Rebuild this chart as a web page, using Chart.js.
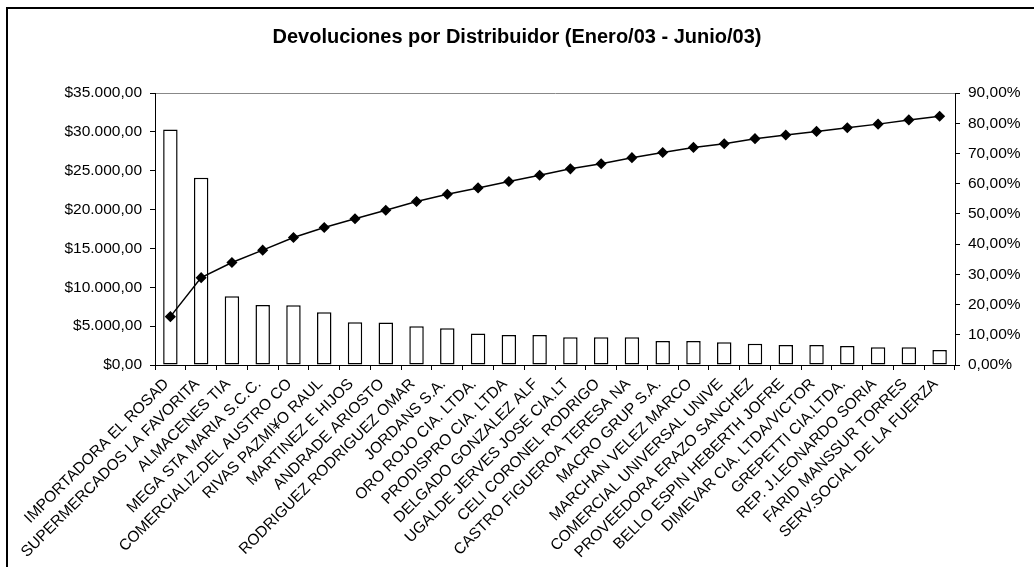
<!DOCTYPE html>
<html>
<head>
<meta charset="utf-8">
<script src="https://cdn.jsdelivr.net/npm/chart.js@4/dist/chart.umd.min.js"></script>
<style>
  body { margin: 0; background: #fff; }
  #wrap { width: 1034px; height: 567px; position: relative; }
</style>
</head>
<body>
<div id="wrap"><canvas id="paretoChart" width="1034" height="567"></canvas></div>
<script>
/* =============================
   DATA
============================= */
const distribuidores = [
  "IMPORTADORA EL ROSAD", "SUPERMERCADOS LA FAVORITA", "ALMACENES TIA",
  "MEGA STA MARIA S.C.C.", "COMERCIALIZ.DEL AUSTRO CO", "RIVAS PAZMI¥O RAUL",
  "MARTINEZ E HIJOS", "ANDRADE ARIOSTO", "RODRIGUEZ RODRIGUEZ OMAR",
  "JORDANS S.A.", "ORO ROJO CIA. LTDA.", "PRODISPRO CIA. LTDA",
  "DELGADO GONZALEZ ALF", "UGALDE JERVES JOSE CIA.LT", "CELI CORONEL RODRIGO",
  "CASTRO FIGUEROA TERESA NA", "MACRO GRUP S.A.", "MARCHAN VELEZ MARCO",
  "COMERCIAL UNIVERSAL UNIVE", "PROVEEDORA ERAZO SANCHEZ", "BELLO ESPIN HEBERTH JOFRE",
  "DIMEVAR CIA. LTDA/VICTOR", "GREPETTI CIA.LTDA.", "REP. J.LEONARDO SORIA",
  "FARID MANSSUR TORRES", "SERV.SOCIAL DE LA FUERZA"
];

const devoluciones = [
  30300, 24100, 8850, 7730, 7700, 6790, 5500, 5480, 4980, 4720,
  4040, 3870, 3870, 3560, 3560, 3560, 3090, 3090, 2920, 2750,
  2580, 2580, 2450, 2280, 2280, 1930
];

const porcentajeAcum = [
  16.0, 28.9, 33.9, 38.0, 42.2, 45.5, 48.4, 51.2, 54.1, 56.5,
  58.6, 60.7, 62.8, 64.9, 66.6, 68.6, 70.3, 72.0, 73.2, 74.9,
  76.1, 77.3, 78.5, 79.7, 81.1, 82.3
];

const tituloGrafico = "Devoluciones por Distribuidor (Enero/03 - Junio/03)";

/* =============================
   FORMATTERS
============================= */
function fmtDinero(v) {
  const [ent, dec] = Number(v).toFixed(2).split(".");
  return "$" + ent.replace(/\B(?=(\d{3})+(?!\d))/g, ".") + "," + dec;
}

function fmtPct(v) {
  return Number(v).toFixed(2).replace(".", ",") + "%";
}

/* =============================
   FRAME PLUGIN
============================= */
const framePlugin = {
  id: "frame",
  afterDraw(chart) {
    const c = chart.ctx;
    c.save();
    c.strokeStyle = "#000";
    c.lineWidth = 2;
    c.strokeRect(7, 8, 1100, 700);
    c.restore();
  }
};

const FONT = "'Liberation Sans', Arial, sans-serif";

new Chart(document.getElementById("paretoChart"), {
  data: {
    labels: distribuidores,
    datasets: [
      {
        type: "line",
        data: porcentajeAcum,
        yAxisID: "y1",
        borderColor: "#000",
        borderWidth: 1.5,
        pointStyle: "rectRot",
        pointRadius: 4.5,
        pointBackgroundColor: "#000",
        pointBorderColor: "#000",
        tension: 0,
        order: 0
      },
      {
        type: "bar",
        data: devoluciones,
        yAxisID: "y",
        backgroundColor: "#fff",
        borderColor: "#000",
        borderWidth: 1.5,
        borderSkipped: false,
        categoryPercentage: 1,
        barPercentage: 0.47,
        order: 1
      }
    ]
  },
  options: {
    responsive: false,
    animation: false,
    layout: { padding: { left: 0, right: 0, top: 0, bottom: 0 } },
    plugins: {
      legend: { display: false },
      tooltip: { enabled: false },
      title: {
        display: true,
        text: tituloGrafico,
        color: "#000",
        font: { family: FONT, size: 20, weight: "bold" },
        padding: { top: 25, bottom: 44 }
      }
    },
    scales: {
      x: {
        offset: true,
        grid: { offset: true, drawOnChartArea: false, tickLength: 5, color: "#000" },
        border: { color: "#000", width: 1 },
        ticks: {
          autoSkip: false,
          maxRotation: 45,
          minRotation: 45,
          color: "#000",
          padding: 5,
          labelOffset: -4,
          font: { family: FONT, size: 15.5 }
        },
        afterFit: s => { s.height = 202; }
      },
      y: {
        position: "left",
        min: 0,
        max: 35000,
        ticks: {
          stepSize: 5000,
          color: "#000",
          padding: 8,
          font: { family: FONT, size: 15.5 },
          callback: v => fmtDinero(v)
        },
        grid: {
          tickLength: 5,
          tickColor: "#000",
          color: c => (c.tick && c.tick.value === 35000 ? "#888" : "rgba(0,0,0,0)")
        },
        border: { color: "#000", width: 1 },
        afterFit: s => { s.width = 155; }
      },
      y1: {
        position: "right",
        min: 0,
        max: 90,
        ticks: {
          stepSize: 10,
          color: "#000",
          padding: 8,
          font: { family: FONT, size: 15.5 },
          callback: v => fmtPct(v)
        },
        grid: { drawOnChartArea: false, tickLength: 5, color: "#000" },
        border: { color: "#000", width: 1 },
        afterFit: s => { s.width = 79; }
      }
    }
  },
  plugins: [framePlugin]
});
</script>
</body>
</html>
